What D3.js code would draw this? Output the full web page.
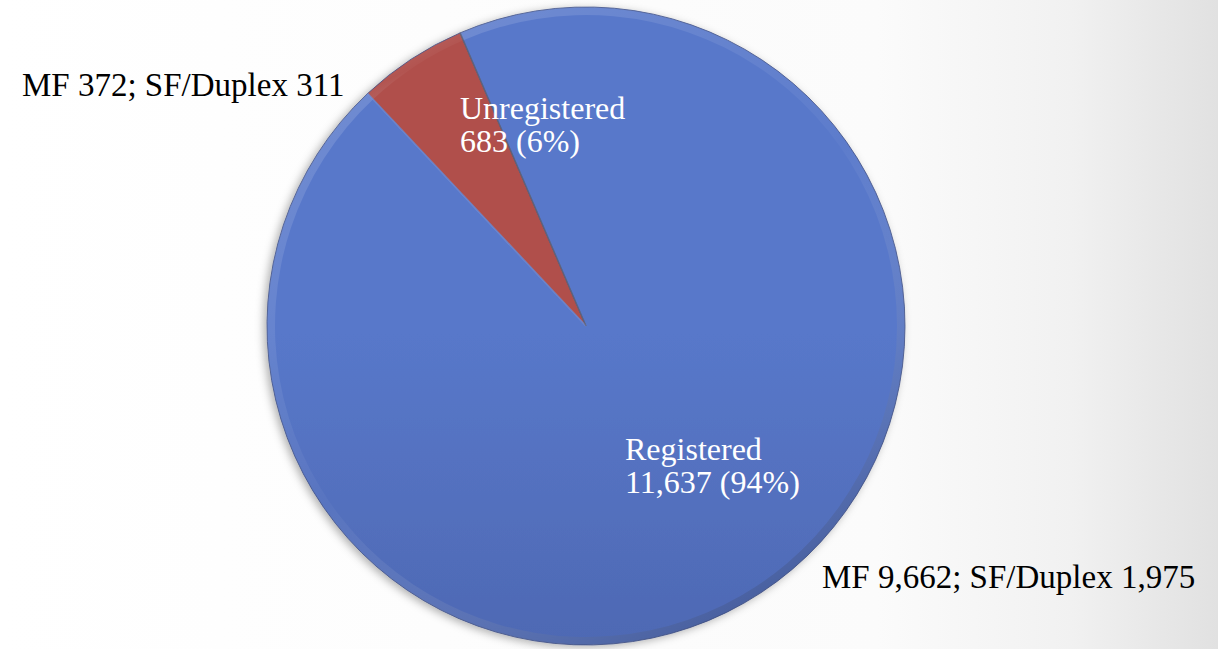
<!DOCTYPE html>
<html>
<head>
<meta charset="utf-8">
<script src="https://cdn.jsdelivr.net/npm/d3@7.9.0/dist/d3.min.js"></script>
<style>
  html, body { margin: 0; padding: 0; background: #fff; }
  svg { display: block; }
  text { font-family: "Liberation Serif", "DejaVu Serif", serif; }
</style>
</head>
<body>
<svg id="chart" width="1218" height="649"></svg>
<script>
// data
const categories = ['Unregistered', 'Registered'];
const counts = [683, 11637];
const percents = ['6%', '94%'];
const breakdown = ['MF 372; SF/Duplex 311', 'MF 9,662; SF/Duplex 1,975'];

const width = 1218, height = 649;
const cx = 586, cy = 326, radius = 319;

const svg = d3.select('#chart');
const defs = svg.append('defs');

// background: white fading to light grey on the right
const bg = defs.append('linearGradient').attr('id', 'bg')
  .attr('x1', '0%').attr('y1', '0%').attr('x2', '100%').attr('y2', '0%');
bg.append('stop').attr('offset', '0%').attr('stop-color', '#ffffff');
bg.append('stop').attr('offset', '72%').attr('stop-color', '#fbfbfb');
bg.append('stop').attr('offset', '88%').attr('stop-color', '#f1f1f1');
bg.append('stop').attr('offset', '100%').attr('stop-color', '#e1e1e1');
svg.append('rect').attr('width', width).attr('height', height).attr('fill', 'url(#bg)');

// slice gradients
const palette = [
  { id: 'gRed', top: '#b04f4c', bottom: '#98403e' },
  { id: 'gBlue', top: '#5878ca', bottom: '#44599c' }
];
palette.forEach(p => {
  const g = defs.append('linearGradient').attr('id', p.id)
    .attr('gradientUnits', 'userSpaceOnUse')
    .attr('x1', 0).attr('y1', cy - radius).attr('x2', 0).attr('y2', cy + radius);
  g.append('stop').attr('offset', '0%').attr('stop-color', p.top);
  g.append('stop').attr('offset', '100%').attr('stop-color', p.bottom);
});

// rim shading: lighter top-left, darker bottom-right
const rim = defs.append('linearGradient').attr('id', 'rim')
  .attr('x1', '15%').attr('y1', '0%').attr('x2', '85%').attr('y2', '100%');
rim.append('stop').attr('offset', '0%').attr('stop-color', '#ffffff').attr('stop-opacity', 0.16);
rim.append('stop').attr('offset', '50%').attr('stop-color', '#ffffff').attr('stop-opacity', 0.03);
rim.append('stop').attr('offset', '100%').attr('stop-color', '#10204a').attr('stop-opacity', 0.35);

const shadow = defs.append('filter').attr('id', 'shadow')
  .attr('x', '-10%').attr('y', '-10%').attr('width', '120%').attr('height', '120%');
shadow.append('feDropShadow').attr('dx', -3).attr('dy', 2).attr('stdDeviation', 4)
  .attr('flood-color', '#000').attr('flood-opacity', 0.3);

// pie, Unregistered wedge starts at about -43 degrees
const start = -43.2 * Math.PI / 180;
const pie = d3.pie().sort(null).startAngle(start).endAngle(start + 2 * Math.PI);
const arcs = pie(counts);
const arc = d3.arc().innerRadius(0).outerRadius(radius);
const rimArc = d3.arc().innerRadius(radius - 8).outerRadius(radius);

const g = svg.append('g').attr('transform', `translate(${cx},${cy})`);

g.append('g').attr('filter', 'url(#shadow)')
  .selectAll('path')
  .data(arcs)
  .join('path')
  .attr('d', arc)
  .attr('fill', (d, i) => `url(#${palette[i].id})`)
  .attr('stroke', '#3a4a80')
  .attr('stroke-width', 0.8);

// bevel rim overlay
g.selectAll('path.rim')
  .data(arcs)
  .join('path')
  .attr('class', 'rim')
  .attr('d', rimArc)
  .attr('fill', 'url(#rim)');

// faint highlight along the wedge's radial edges
g.selectAll('line.edge')
  .data(arcs)
  .join('line')
  .attr('class', 'edge')
  .attr('x1', 0).attr('y1', 0)
  .attr('x2', d => Math.sin(d.startAngle) * radius)
  .attr('y2', d => -Math.cos(d.startAngle) * radius)
  .attr('stroke', (d, i) => i === 0 ? '#7f96dc' : '#6a6a78')
  .attr('stroke-opacity', 0.7)
  .attr('stroke-width', 1.5);

// labels inside slices (white, two lines)
const innerPos = [[460, 119], [625, 460]];
const inner = svg.selectAll('text.inner')
  .data(arcs)
  .join('text')
  .attr('class', 'inner')
  .attr('x', (d, i) => innerPos[i][0])
  .attr('y', (d, i) => innerPos[i][1])
  .attr('fill', '#ffffff')
  .attr('font-size', 32);
inner.append('tspan').attr('x', (d, i) => innerPos[i][0]).text((d, i) => categories[i]);
inner.append('tspan').attr('x', (d, i) => innerPos[i][0]).attr('dy', 33)
  .text((d, i) => `${d3.format(',')(counts[i])} (${percents[i]})`);

// breakdown labels outside the pie (black)
const outerPos = [[22, 96], [822, 588]];
svg.selectAll('text.outer')
  .data(breakdown)
  .join('text')
  .attr('class', 'outer')
  .attr('x', (d, i) => outerPos[i][0])
  .attr('y', (d, i) => outerPos[i][1])
  .attr('fill', '#000')
  .attr('font-size', 33)
  .text(d => d);
</script>
</body>
</html>
